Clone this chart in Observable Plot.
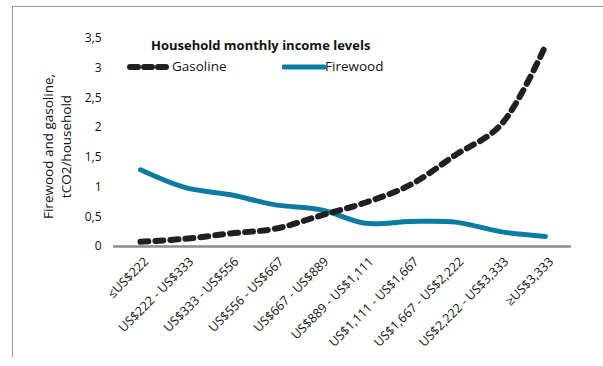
<!DOCTYPE html>
<html>
<head>
<meta charset="utf-8">
<script src="https://cdn.jsdelivr.net/npm/d3@7"></script>
<script src="https://cdn.jsdelivr.net/npm/@observablehq/plot@0.6"></script>
<style>
  html, body { margin: 0; padding: 0; background: #fff; }
  #wrap { position: relative; width: 603px; height: 366px; overflow: hidden; font-family: "Open Sans", sans-serif; }
  #frame { position: absolute; left: 12px; top: 6px; width: 600px; height: 350px; border-left: 1px solid #9a9a9a; border-top: 1px solid #9a9a9a; }
  #chart { position: absolute; left: 0; top: 0; }
  .lg { position: absolute; font-size: 13.5px; color: #111; white-space: nowrap; }
  .lgt { font-weight: bold; font-size: 13px; }
</style>
</head>
<body>
<div id="wrap">
  <div id="frame"></div>
  <div id="chart"></div>
  <div class="lg lgt" style="left:151px; top:36px;">Household monthly income levels</div>
  <svg class="lg" style="left:127px; top:61px;" width="46" height="12"><line x1="3" y1="6" x2="43" y2="6" stroke="#231f20" stroke-width="6" stroke-dasharray="8,6" stroke-linecap="round"/></svg>
  <div class="lg" style="left:172px; top:57px;">Gasoline</div>
  <svg class="lg" style="left:282px; top:61px;" width="44" height="12"><line x1="2" y1="6" x2="42" y2="6" stroke="#0b7ba1" stroke-width="5" stroke-linecap="round"/></svg>
  <div class="lg" style="left:325px; top:57px;">Firewood</div>
</div>
<script>
const categories = ["\u2264US$222", "US$222 - US$333", "US$333 - US$556", "US$556 - US$667", "US$667 - US$889",
  "US$889 - US$1,111", "US$1,111 - US$1,667", "US$1,667 - US$2,222", "US$2,222 - US$3,333", "\u2265US$3,333"];
const gasoline = [0.08, 0.13, 0.22, 0.30, 0.52, 0.74, 1.04, 1.54, 2.04, 3.38];
const firewood = [1.29, 0.99, 0.87, 0.70, 0.62, 0.39, 0.42, 0.41, 0.25, 0.17];
const yTicks = [0, 0.5, 1, 1.5, 2, 2.5, 3, 3.5];

const gasData = categories.map((c, i) => ({cat: c, v: gasoline[i]}));
const fireData = categories.map((c, i) => ({cat: c, v: firewood[i]}));
const fmt = d => String(d).replace(".", ",");

const chart = Plot.plot({
  width: 603,
  height: 366,
  marginLeft: 113,
  marginRight: 32,
  marginTop: 38,
  marginBottom: 120,
  style: {fontFamily: "Open Sans, sans-serif", fontSize: "12px", color: "#111", background: "transparent"},
  x: {type: "point", domain: categories, padding: 0.5, label: null},
  y: {domain: [0, 3.5], ticks: yTicks, tickFormat: fmt, label: null, tickSize: 0, tickPadding: 12},
  marks: [
    Plot.axisX({tickSize: 0, tickRotate: -45, tickPadding: 13, dx: 6, fontSize: 12.5, label: null}),
    Plot.ruleX([0], {frameAnchor: "left", stroke: "#8c8c8c", strokeWidth: 2.5}),
    Plot.ruleY([0], {stroke: "#8c8c8c", strokeWidth: 2.5}),
    Plot.line(fireData, {x: "cat", y: "v", stroke: "#0b7ba1", strokeWidth: 5, curve: "catmull-rom", strokeLinecap: "round"}),
    Plot.line(gasData, {x: "cat", y: "v", stroke: "#231f20", strokeWidth: 6, strokeDasharray: "8,7", strokeLinecap: "round", curve: "catmull-rom"}),
    Plot.text(["Firewood and gasoline,\ntCO2/household"], {frameAnchor: "left", textAnchor: "middle", rotate: -90, dx: -57, dy: 4, fontSize: 13.5, fill: "#111", lineHeight: 1.3})
  ]
});
document.getElementById("chart").appendChild(chart);
</script>
</body>
</html>
